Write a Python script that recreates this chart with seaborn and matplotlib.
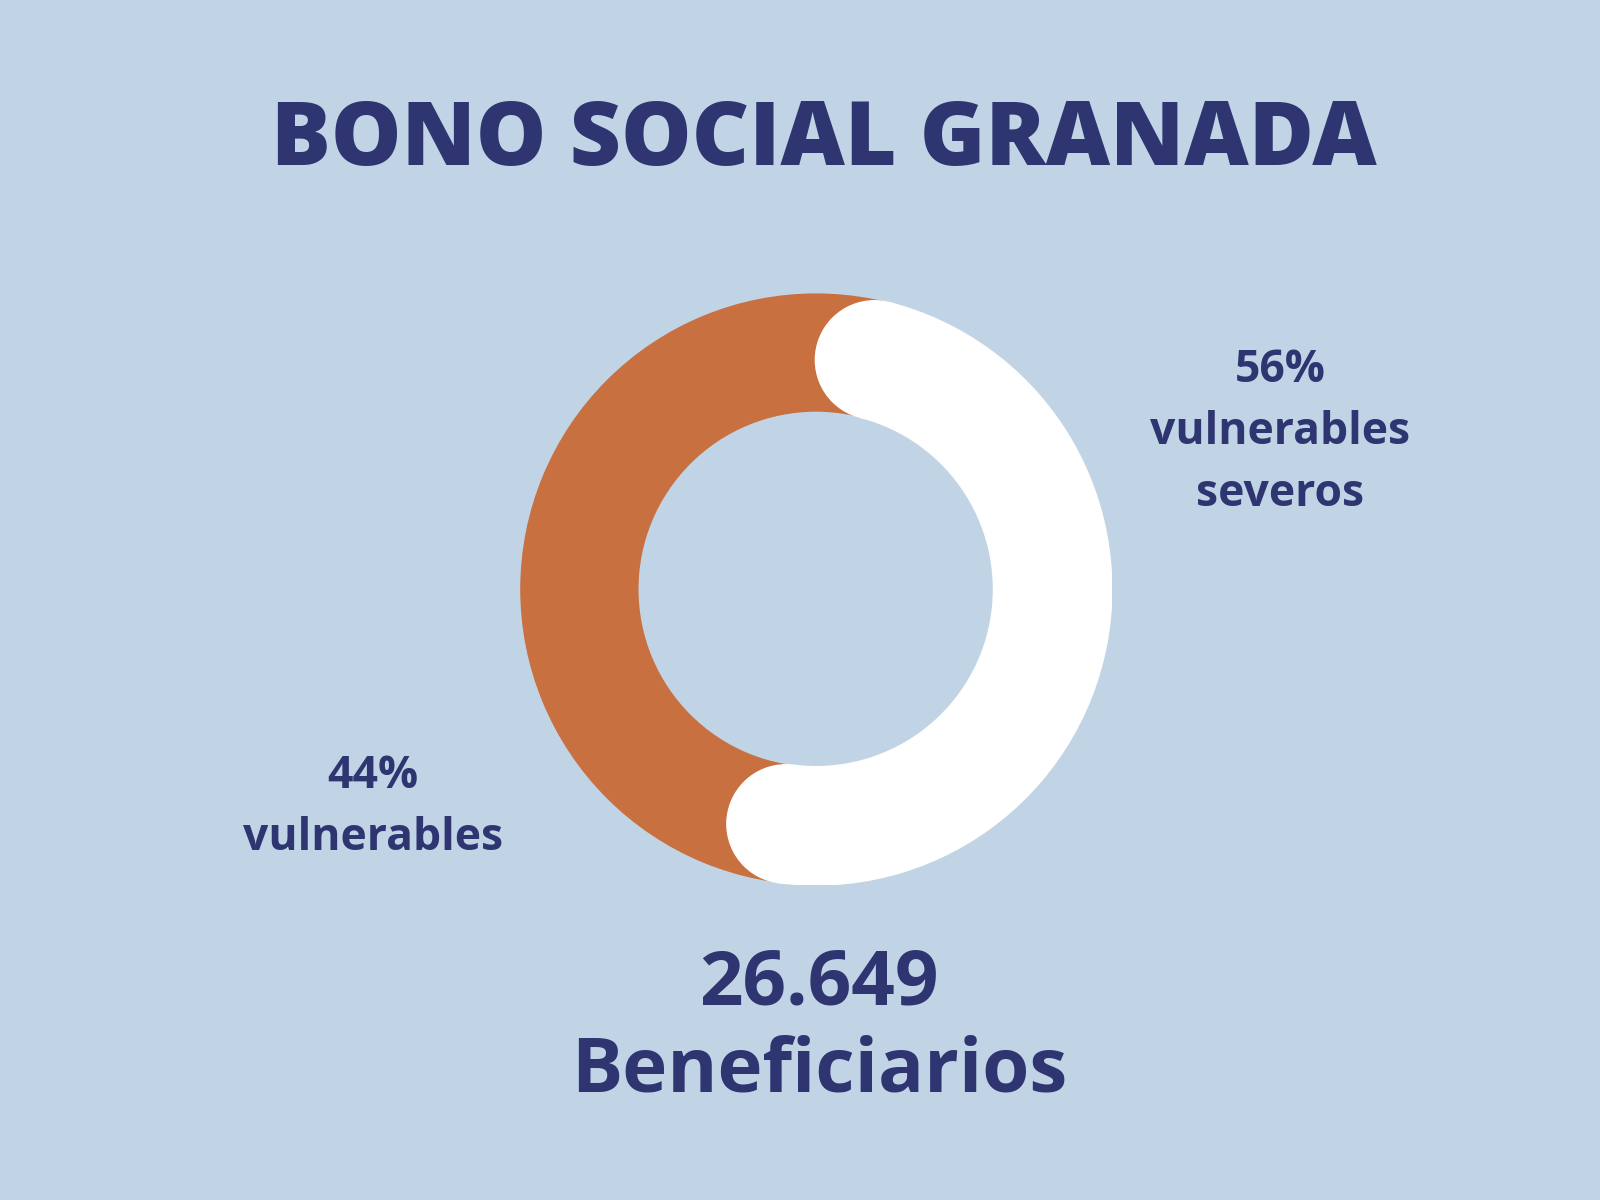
import numpy as np
import matplotlib
matplotlib.use("Agg")
import matplotlib.pyplot as plt
from matplotlib.patches import Wedge, Circle
import seaborn as sns

categories = ["vulnerables", "vulnerables severos"]
shares = [44, 56]
total = "26.649"

sns.set_theme(style="white")
plt.rcParams['font.family'] = ['Open Sans', 'DejaVu Sans']

bg = '#c1d4e6'
navy = '#2e3570'
colors = ['#c87040', 'white']

fig = plt.figure(figsize=(16, 12), dpi=100)
fig.set_facecolor(bg)

ax = fig.add_axes([0.51 - 0.185, 0.509 - 0.2465, 0.37, 0.493])
ax.set_facecolor(bg)
ring = 0.4
start = 90
# full orange ring as base
ax.pie([1], colors=[colors[0]], radius=1.0, wedgeprops=dict(width=ring, edgecolor='none'))
# white arc with rounded ends, caps kept inside its share
mid_r = 1.0 - ring / 2
cap = np.rad2deg((ring / 2) / mid_r)
span = 360 * shares[1] / sum(shares)
a1, a2 = start - cap, start - span + cap
ax.add_patch(Wedge((0, 0), 1.0, a2, a1, width=ring, color=colors[1], zorder=3))
for a in (a1, a2):
    t = np.deg2rad(a)
    ax.add_patch(Circle((mid_r * np.cos(t), mid_r * np.sin(t)), ring / 2,
                        color=colors[1], zorder=3))
ax.set_xlim(-1, 1)
ax.set_ylim(-1, 1)
ax.set_aspect('equal')
ax.axis('off')

fig.text(0.515, 0.882, "BONO SOCIAL GRANADA", ha='center', va='center',
         fontsize=64, fontweight='heavy', color=navy)
fig.text(0.80, 0.64, f"{shares[1]}%\nvulnerables\nseveros", ha='center', va='center',
         fontsize=32, fontweight='bold', color=navy, linespacing=1.5)
fig.text(0.233, 0.327, f"{shares[0]}%\nvulnerables", ha='center', va='center',
         fontsize=32, fontweight='bold', color=navy, linespacing=1.5)
fig.text(0.512, 0.143, f"{total}\nBeneficiarios", ha='center', va='center',
         fontsize=55, fontweight='bold', color=navy, linespacing=1.2)

plt.savefig('out.png', dpi=100, facecolor=bg)
